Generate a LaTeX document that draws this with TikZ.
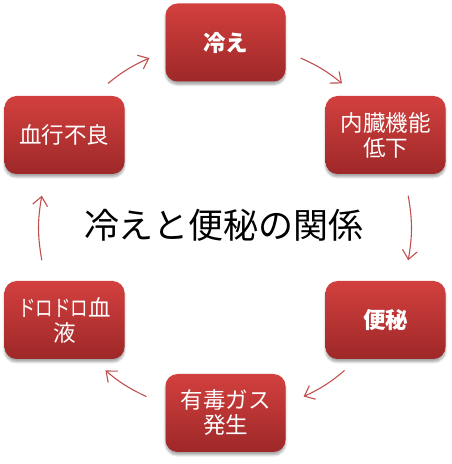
\documentclass[tikz,border=0pt]{standalone}
\usepackage{fontspec}
\setmainfont{Noto Sans CJK JP}
\usetikzlibrary{arrows.meta,shadows.blur,calc}
\definecolor{boxtop}{RGB}{210,64,62}
\definecolor{boxbot}{RGB}{158,40,40}
\definecolor{arrred}{RGB}{192,80,77}
\newcommand{\narrowkana}[1]{\scalebox{0.78}[1]{#1}}
\tikzset{
  cyclebox/.style={rounded corners=12pt, minimum width=120pt, minimum height=78pt,
    top color=boxtop, bottom color=boxbot, draw=none, text=white, align=center,
    font=\fontsize{22.5}{25}\selectfont,
    blur shadow={shadow xshift=0pt, shadow yshift=-3pt, shadow blur steps=6, shadow opacity=35}},
  boldbox/.style={cyclebox, font=\fontsize{22.5}{25}\selectfont\bfseries},
  cyclearrow/.style={draw=arrred, line width=1.1pt, -{Straight Barb[length=9pt,width=15pt]}},
  titletext/.style={font=\fontsize{35}{40}\selectfont, text=black}
}
\begin{document}
\begin{tikzpicture}[x=1pt,y=1pt]
\useasboundingbox (0,0) rectangle (451,464);
\node[boldbox] (hie) at (225.5,421.5) {冷え};
\node[cyclebox] (naizo) at (385.5,329) {内臓機能\\低下};
\node[boldbox] (benpi) at (385.5,144) {便秘};
\node[cyclebox] (gas) at (225.5,51) {有毒ガス\\発生};
\node[cyclebox] (doro) at (64.5,144) {\narrowkana{ドロドロ}血\\液};
\node[cyclebox] (kekko) at (64.5,329) {血行不良};
\node[titletext] (title) at (224,239) {冷えと便秘の関係};
\coordinate (c) at (225,236);
\foreach \n/\a in {s1/66,e1/51,s2/10,e2/-10,s3/-50,e3/-65,s4/-115,e4/-130,s5/-170,e5/-190,s6/129,e6/114}{
  \coordinate (\n) at ($(c)+(\a:186)$);
}
\draw[cyclearrow] (s1) to[bend left=7.5] (e1);
\draw[cyclearrow] (s2) to[bend left=10] (e2);
\draw[cyclearrow] (s3) to[bend left=7.5] (e3);
\draw[cyclearrow] (s4) to[bend left=7.5] (e4);
\draw[cyclearrow] (s5) to[bend left=10] (e5);
\draw[cyclearrow] (s6) to[bend left=7.5] (e6);
\end{tikzpicture}
\end{document}
